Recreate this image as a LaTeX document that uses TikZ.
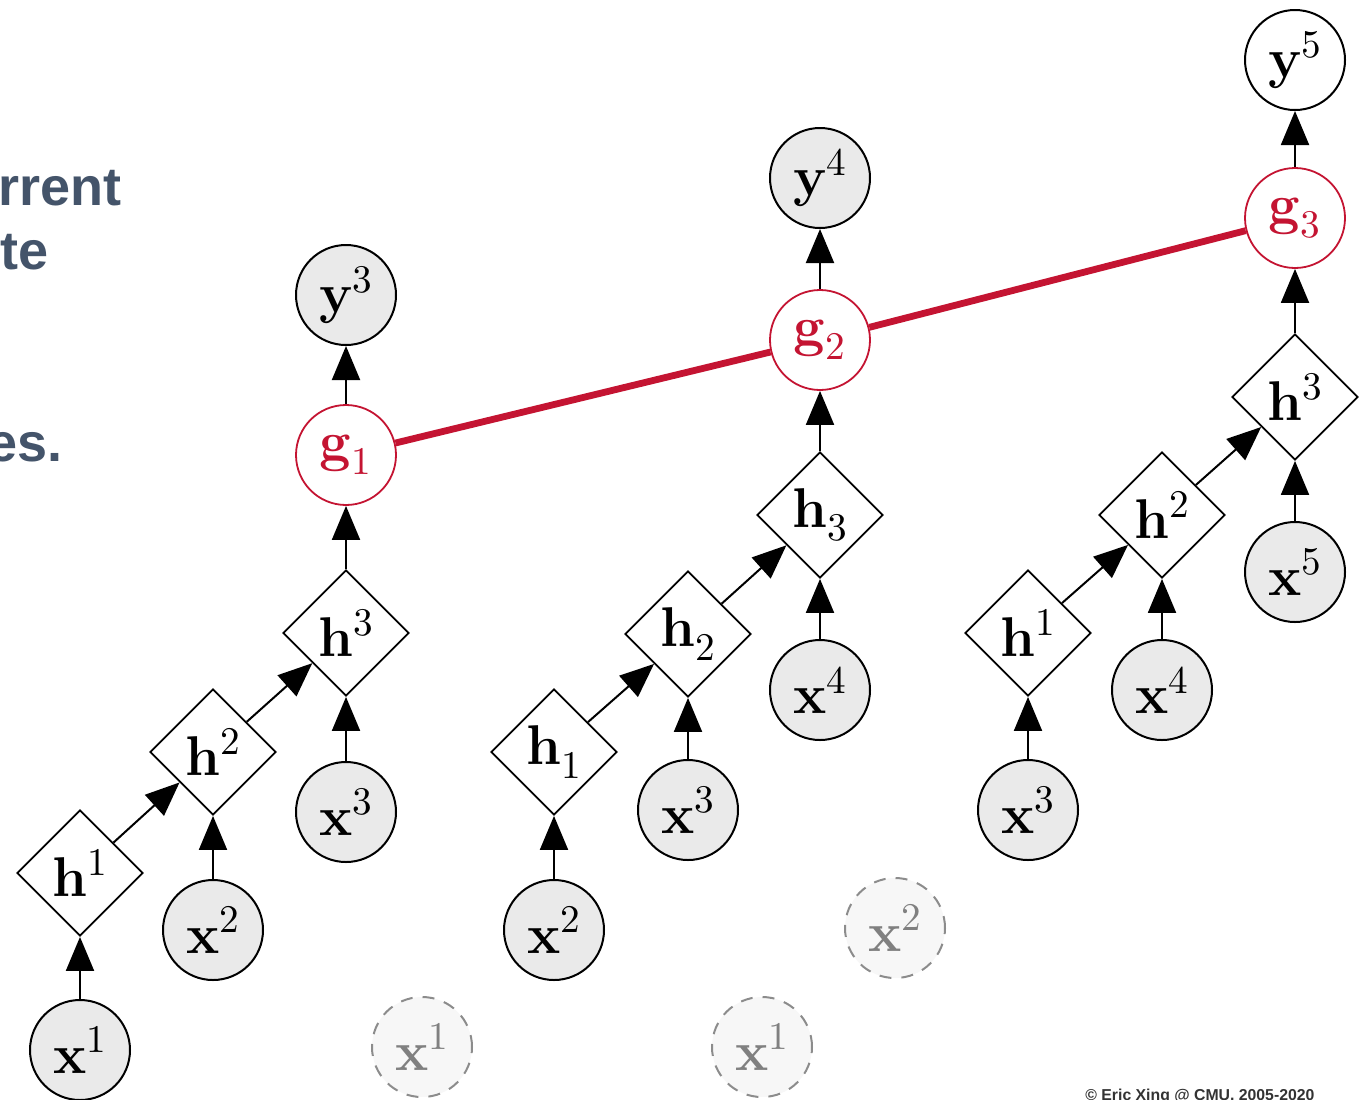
\documentclass[tikz,border=0pt]{standalone}
\usepackage{fontspec}
\usepackage{unicode-math}
\setmainfont{Latin Modern Roman}
\setmathfont{Latin Modern Math}
\newfontfamily\slidefont{Liberation Sans}
\RequirePackage{xcolor}
\definecolor{cmured}{RGB}{196,20,50}
\definecolor{slate}{RGB}{68,84,106}
\definecolor{nodegray}{RGB}{234,234,234}
\usetikzlibrary{shapes.geometric}
\usetikzlibrary{arrows.meta}

\tikzset{
  var/.style={circle, draw, line width=1pt, fill=nodegray, minimum size=50pt, inner sep=0pt,
    font=\fontsize{28}{32}\selectfont},
  ghost/.style={var, dashed, dash pattern=on 6pt off 5pt, draw=black!45, fill=black!3, text=black!50},
  hid/.style={diamond, draw, line width=0.9pt, fill=white, minimum size=63pt, inner sep=0pt,
    font=\fontsize{28}{32}\selectfont},
  agg/.style={var, draw=cmured, line width=0.9pt, fill=white, text=cmured},
  flow/.style={line width=1pt, -{Triangle[length=17pt,width=14pt]}},
}

\begin{document}
\begin{tikzpicture}[x=0.5pt, y=-0.5pt]
  \useasboundingbox (0,0) rectangle (1360,1099);

  % slide text cut off at the left edge
  \begin{scope}[every node/.style={anchor=base west, inner sep=0pt, text=slate,
      font=\slidefont\bfseries\fontsize{27}{32}\selectfont}]
    \node (t1) at (-2, 205) {rrent};
    \node (t2) at (0, 269) {te};
    \node (t3) at (-13, 461) {es.};
  \end{scope}

  % first tree
  \node [var] (ax1) at (80, 1050) {$\mathbf{x}^1$};
  \node [hid] (ah1) at (80, 873) {$\mathbf{h}^1$};
  \node [var] (ax2) at (213, 930) {$\mathbf{x}^2$};
  \node [hid] (ah2) at (213, 752) {$\mathbf{h}^2$};
  \node [var] (ax3) at (346, 812) {$\mathbf{x}^3$};
  \node [hid] (ah3) at (346, 633) {$\mathbf{h}^3$};
  \node [agg] (g1) at (346, 455) {$\mathbf{g}_1$};
  \node [var] (y3) at (346, 295) {$\mathbf{y}^3$};

  % second tree
  \node [ghost] (bx1) at (422, 1047) {$\mathbf{x}^1$};
  \node [var] (bx2) at (554, 930) {$\mathbf{x}^2$};
  \node [hid] (bh1) at (554, 752) {$\mathbf{h}_1$};
  \node [var] (bx3) at (688, 810) {$\mathbf{x}^3$};
  \node [hid] (bh2) at (688, 634) {$\mathbf{h}_2$};
  \node [var] (bx4) at (820, 690) {$\mathbf{x}^4$};
  \node [hid] (bh3) at (820, 515) {$\mathbf{h}_3$};
  \node [agg] (g2) at (820, 340) {$\mathbf{g}_2$};
  \node [var] (y4) at (820, 178) {$\mathbf{y}^4$};

  % third tree
  \node [ghost] (cx1) at (762, 1047) {$\mathbf{x}^1$};
  \node [ghost] (cx2) at (895, 928) {$\mathbf{x}^2$};
  \node [var] (cx3) at (1028, 810) {$\mathbf{x}^3$};
  \node [hid] (ch1) at (1028, 633) {$\mathbf{h}^1$};
  \node [var] (cx4) at (1162, 690) {$\mathbf{x}^4$};
  \node [hid] (ch2) at (1162, 515) {$\mathbf{h}^2$};
  \node [var] (cx5) at (1295, 572) {$\mathbf{x}^5$};
  \node [hid] (ch3) at (1295, 397) {$\mathbf{h}^3$};
  \node [agg] (g3) at (1295, 218) {$\mathbf{g}_3$};
  \node [var, fill=white] (y5) at (1295, 60) {$\mathbf{y}^5$};

  \foreach \t in {a,b,c} {
    \draw [flow] (\t h1) -- (\t h2);
    \draw [flow] (\t h2) -- (\t h3);
  }
  \draw [flow] (ax1) -- (ah1);
  \draw [flow] (ax2) -- (ah2);
  \draw [flow] (ax3) -- (ah3);
  \draw [flow] (bx2) -- (bh1);
  \draw [flow] (bx3) -- (bh2);
  \draw [flow] (bx4) -- (bh3);
  \draw [flow] (cx3) -- (ch1);
  \draw [flow] (cx4) -- (ch2);
  \draw [flow] (cx5) -- (ch3);

  \draw [flow] (ah3) -- (g1);
  \draw [flow] (bh3) -- (g2);
  \draw [flow] (ch3) -- (g3);
  \draw [flow] (g1) -- (y3);
  \draw [flow] (g2) -- (y4);
  \draw [flow] (g3) -- (y5);

  % shared chain over the roots
  \draw [cmured, line width=3.4pt] (g1) -- (g2);
  \draw [cmured, line width=3.4pt] (g2) -- (g3);

  \node [anchor=base west, inner sep=0pt, text=black!80,
    font=\slidefont\bfseries\fontsize{7.9}{10}\selectfont] (copy) at (1085, 1100)
    {\textcopyright{} Eric Xing @ CMU, 2005-2020};
\end{tikzpicture}
\end{document}
